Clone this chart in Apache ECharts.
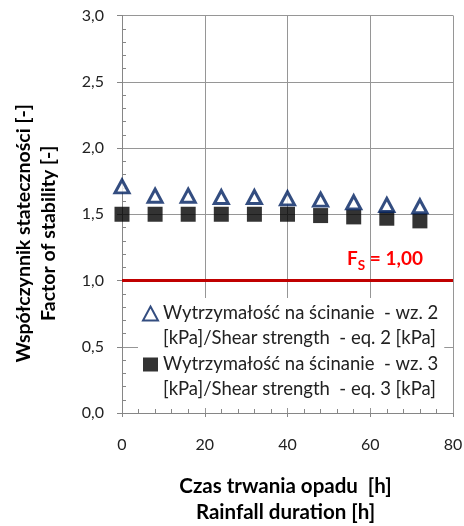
<!DOCTYPE html>
<html><head><meta charset="utf-8">
<script src="https://cdn.jsdelivr.net/npm/echarts@6/dist/echarts.min.js"></script>
<style>html,body{margin:0;padding:0;background:#fff}#c{width:464px;height:526px}</style>
</head><body><div id="c"></div>
<script>
const hours = [0, 8, 16, 24, 32, 40, 48, 56, 64, 72];
const eq2 = [1.71, 1.64, 1.64, 1.63, 1.63, 1.62, 1.61, 1.59, 1.57, 1.56];
const eq3 = [1.50, 1.50, 1.50, 1.50, 1.50, 1.50, 1.49, 1.48, 1.47, 1.45];
const safetyFactor = 1.0;
const seriesNames = [
  'Wytrzymałość na ścinanie  - wz. 2\n[kPa]/Shear strength  - eq. 2 [kPa]',
  'Wytrzymałość na ścinanie  - wz. 3\n[kPa]/Shear strength  - eq. 3 [kPa]'
];
const yTitle = 'Współczynnik stateczności [-]\nFactor of stability [-]';
const xTitle = 'Czas trwania opadu  [h]\nRainfall duration [h]';

const FONT = 'Lato';
const chart = echarts.init(document.getElementById('c'), null, {renderer: 'canvas'});
const gridColor = '#969696';
chart.setOption({
  animation: false,
  textStyle: {fontFamily: FONT},
  grid: {left: 122, right: 11, top: 15.5, bottom: 113, outerBoundsMode: 'none', containLabel: false},
  xAxis: {
    type: 'value', min: 0, max: 80, interval: 20,
    axisLine: {lineStyle: {color: '#868686'}},
    axisTick: {show: true, inside: false, length: 4, lineStyle: {color: '#868686'}},
    minorTick: {show: true, splitNumber: 5, length: -4, lineStyle: {color: '#868686'}},
    splitLine: {show: true, lineStyle: {color: gridColor, width: 1}},
    axisLabel: {fontSize: 16, color: '#222', margin: 24, fontFamily: FONT},
    name: xTitle, nameLocation: 'middle', nameGap: 60,
    nameTextStyle: {fontSize: 20.5, fontWeight: 'bold', color: '#000', lineHeight: 26, fontFamily: FONT, padding: [0, 4, 0, 0]}
  },
  yAxis: {
    type: 'value', min: 0, max: 3, interval: 0.5,
    axisLine: {show: true, lineStyle: {color: '#868686'}},
    axisTick: {show: true, inside: false, length: 5, lineStyle: {color: '#868686'}},
    minorTick: {show: true, splitNumber: 5, length: -4, lineStyle: {color: '#868686'}},
    splitLine: {show: true, lineStyle: {color: gridColor, width: 1}},
    axisLabel: {fontSize: 16, color: '#222', margin: 18, fontFamily: FONT,
      formatter: v => v.toFixed(1).replace('.', ',')},
    name: yTitle, nameLocation: 'middle', nameGap: 61, nameRotate: 90,
    nameTextStyle: {fontSize: 19.5, fontWeight: 'bold', color: '#000', lineHeight: 25, fontFamily: FONT, padding: [0, 38, 0, 0]}
  },
  legend: {
    orient: 'vertical', left: 138, top: 298,
    backgroundColor: '#fff', padding: [-22, 6, 6, 4], itemGap: -24,
    itemWidth: 15, itemHeight: 14,
    formatter: name => ' \n' + name,
    textStyle: {fontSize: 18.5, lineHeight: 25, color: '#222', fontFamily: FONT},
    data: [seriesNames[0], seriesNames[1]]
  },
  series: [
    {
      name: seriesNames[0], type: 'scatter', symbol: 'triangle', symbolSize: [14, 13],
      itemStyle: {color: '#fff', borderColor: '#002060', borderWidth: 3},
      data: hours.map((h, i) => [h, eq2[i]]), z: 3
    },
    {
      name: seriesNames[1], type: 'scatter', symbol: 'rect', symbolSize: 15,
      itemStyle: {color: '#000'},
      data: hours.map((h, i) => [h, eq3[i]]), z: 2,
      markLine: {
        silent: true, symbol: 'none',
        lineStyle: {color: '#C00000', width: 3, type: 'solid'},
        label: {
          show: true, position: 'insideEndTop',
          formatter: '{a|F}{s|S}{a| = 1,00}',
          padding: [0, 25, 4, 0],
          rich: {
            a: {fontSize: 19, fontWeight: 'bold', color: '#FF0000', fontFamily: FONT, lineHeight: 22, verticalAlign: 'top'},
            s: {fontSize: 13.5, fontWeight: 'bold', color: '#FF0000', fontFamily: FONT, lineHeight: 14, verticalAlign: 'top', padding: [9, 0, 0, 0]}
          }
        },
        data: [{yAxis: safetyFactor}]
      }
    }
  ]
});
</script></body></html>
